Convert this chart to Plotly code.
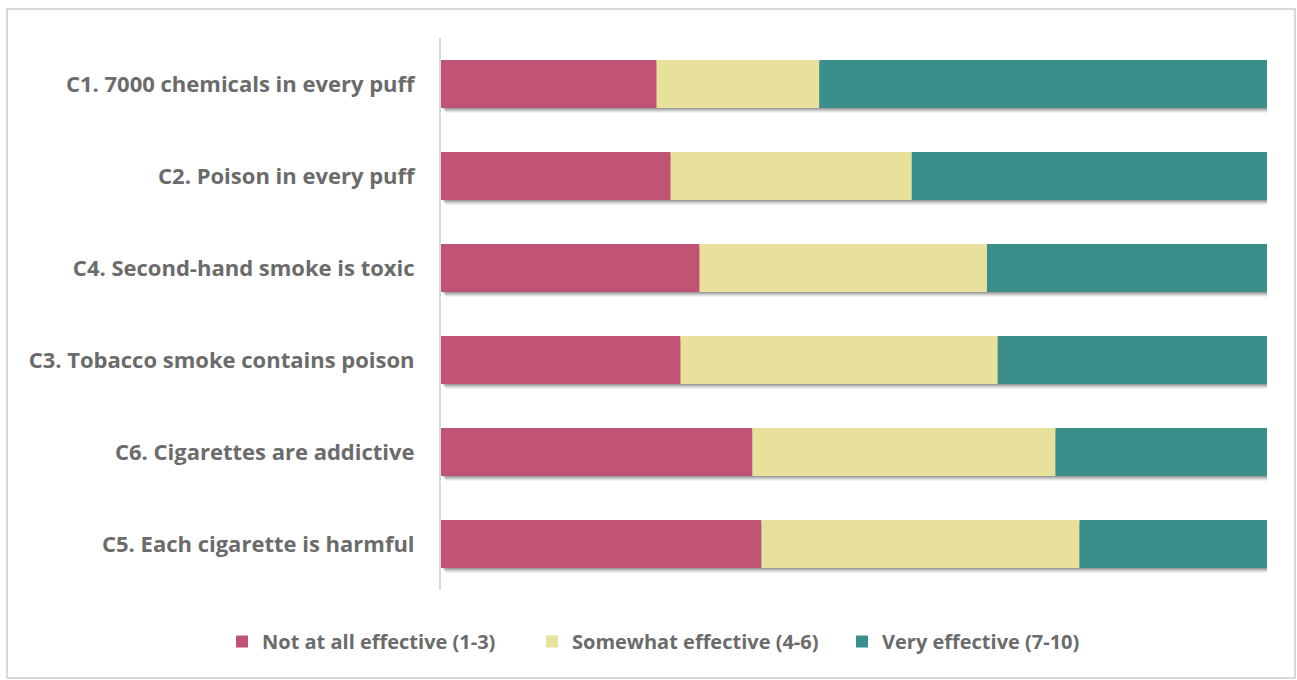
import plotly.graph_objects as go

# Message ratings, share of respondents (%)
messages = [
    "C1. 7000 chemicals in every puff",
    "C2. Poison in every puff",
    "C4. Second-hand smoke is toxic",
    "C3. Tobacco smoke contains poison",
    "C6. Cigarettes are addictive",
    "C5. Each cigarette is harmful",
]
not_effective = [26.1, 27.8, 31.3, 29.0, 37.7, 38.8]
somewhat_effective = [19.7, 29.2, 34.8, 38.4, 36.7, 38.5]
very_effective = [54.2, 43.0, 33.9, 32.6, 25.6, 22.7]

series = [
    ("Not at all effective (1-3)", not_effective, "#C15474"),
    ("Somewhat effective (4-6)", somewhat_effective, "#E8E19B"),
    ("Very effective (7-10)", very_effective, "#3A8F8D"),
]

BAR_W = 0.52
fig = go.Figure()

# soft drop shadow under each full bar
totals = [a + b + c for a, b, c in zip(not_effective, somewhat_effective, very_effective)]
for k, alpha in enumerate([0.18, 0.13, 0.09, 0.06]):
    fig.add_trace(go.Bar(
        y=messages, x=totals, base=0.25 + 0.1 * k, orientation="h",
        width=BAR_W, offset=-BAR_W / 2 + 0.015 + 0.013 * k,
        marker=dict(color=f"rgba(0,0,0,{alpha})", line=dict(width=0)),
        showlegend=False, hoverinfo="skip",
    ))

base = [0.0] * len(messages)
for name, vals, color in series:
    fig.add_trace(go.Bar(
        y=messages, x=vals, base=list(base), orientation="h", name=name,
        width=BAR_W, offset=-BAR_W / 2,
        marker=dict(color=color, line=dict(width=0)),
    ))
    base = [b + v for b, v in zip(base, vals)]

font = "Open Sans, Calibri, sans-serif"
text_color = "#6B6B6B"
fig.update_layout(
    width=1297, height=680,
    barmode="overlay",
    plot_bgcolor="white", paper_bgcolor="white",
    margin=dict(l=441, r=30, t=38, b=90, autoexpand=False),
    font=dict(family=font, size=18, color=text_color),
    xaxis=dict(range=[0, 100], visible=False, fixedrange=True),
    yaxis=dict(
        autorange="reversed", showgrid=False, zeroline=False,
        showline=True, linecolor="#D9D9D9", linewidth=2,
        ticks="", ticklabelstandoff=20,
        tickfont=dict(family=font, size=22, color=text_color, weight="bold"),
    ),
    legend=dict(
        orientation="h", x=(222 - 441) / 826, xanchor="left",
        y=-0.058, yanchor="top",
        font=dict(family=font, size=20, color=text_color, weight="bold"),
        traceorder="normal", itemwidth=30,
        entrywidth=265, entrywidthmode="pixels",
    ),
    shapes=[dict(
        type="rect", xref="paper", yref="paper",
        x0=-441 / 826 + 7 / 826, x1=1 + 28 / 826,
        y0=-88 / 552, y1=1 + 29 / 552,
        line=dict(color="#D9D9D9", width=2), fillcolor="rgba(0,0,0,0)",
        layer="below",
    )],
)

fig.write_html("out.html")
